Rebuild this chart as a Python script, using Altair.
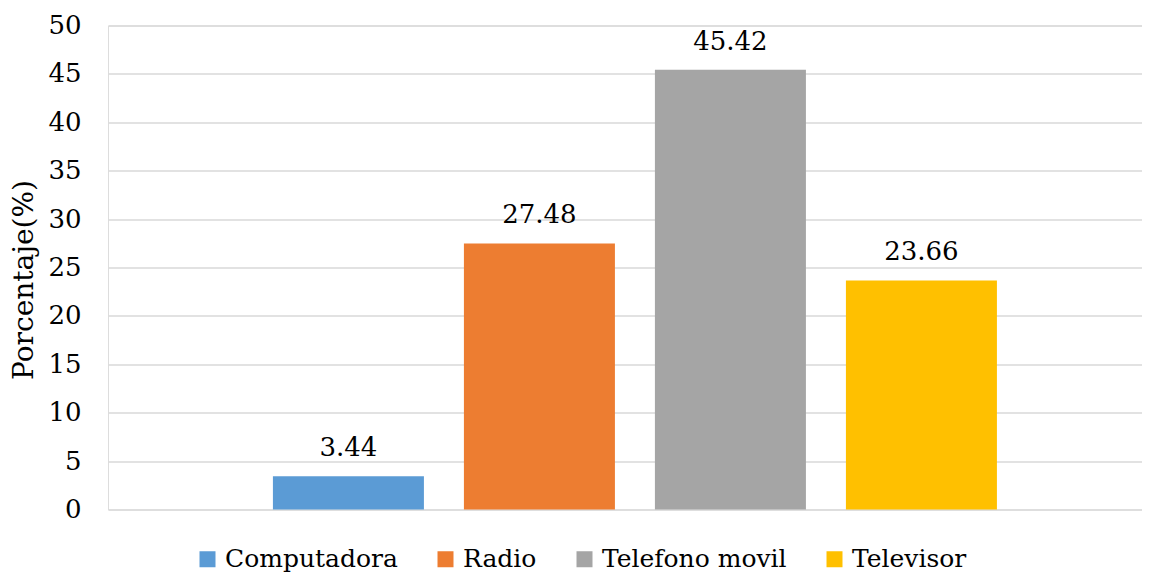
import altair as alt
import pandas as pd

categories = ["Computadora", "Radio", "Telefono movil", "Televisor"]
values = [3.44, 27.48, 45.42, 23.66]
labels = ["3.44", "27.48", "45.42", "23.66"]
colors = ["#5B9BD5", "#ED7D31", "#A5A5A5", "#FFC000"]

df = pd.DataFrame({"serie": categories, "valor": values, "etiqueta": labels})

FONT = "DejaVu Serif"

x = alt.X("serie:N", axis=None, sort=categories,
          scale=alt.Scale(domain=categories, paddingInner=0.2094,
                          paddingOuter=0.8115, align=0.532))
y = alt.Y("valor:Q",
          scale=alt.Scale(domain=[0, 50], nice=False),
          axis=alt.Axis(values=list(range(0, 55, 5)), title="Porcentaje(%)",
                        domain=False, ticks=False, labelPadding=27,
                        labelFontSize=26, labelFont=FONT, labelColor="#000000",
                        titleFontSize=28, titleFont=FONT, titleColor="#000000",
                        titleFontWeight="normal", titleAngle=270,
                        titleX=-76, titleY=254, titleAlign="center",
                        titleBaseline="alphabetic",
                        grid=True, gridColor="#D9D9D9", gridWidth=1.5))

bars = alt.Chart(df).mark_bar().encode(
    x=x, y=y,
    color=alt.Color("serie:N", sort=categories,
                    scale=alt.Scale(domain=categories, range=colors),
                    legend=alt.Legend(orient="none", direction="horizontal",
                                      columns=4, title=None, legendX=87,
                                      legendY=521,
                                      symbolType="square", symbolSize=256,
                                      symbolStrokeWidth=0, symbolOpacity=1,
                                      labelFont=FONT, labelFontSize=25,
                                      labelColor="#000000", labelOffset=5,
                                      labelLimit=0,
                                      columnPadding=35, symbolOffset=0)),
)

text = alt.Chart(df).mark_text(font=FONT, fontSize=26, color="#000000",
                               baseline="alphabetic", dy=-20).encode(
    x=x, y=y, text="etiqueta:N")

chart = (bars + text).properties(
    width=1034, height=484,
    autosize=alt.AutoSizeParams(type="none"),
    padding={"left": 100, "top": 17.5, "right": 0, "bottom": 64.5},
).configure_view(stroke=None).configure(background="#FFFFFF")

chart.save("out.html", embed_options={"renderer": "svg", "actions": False})
